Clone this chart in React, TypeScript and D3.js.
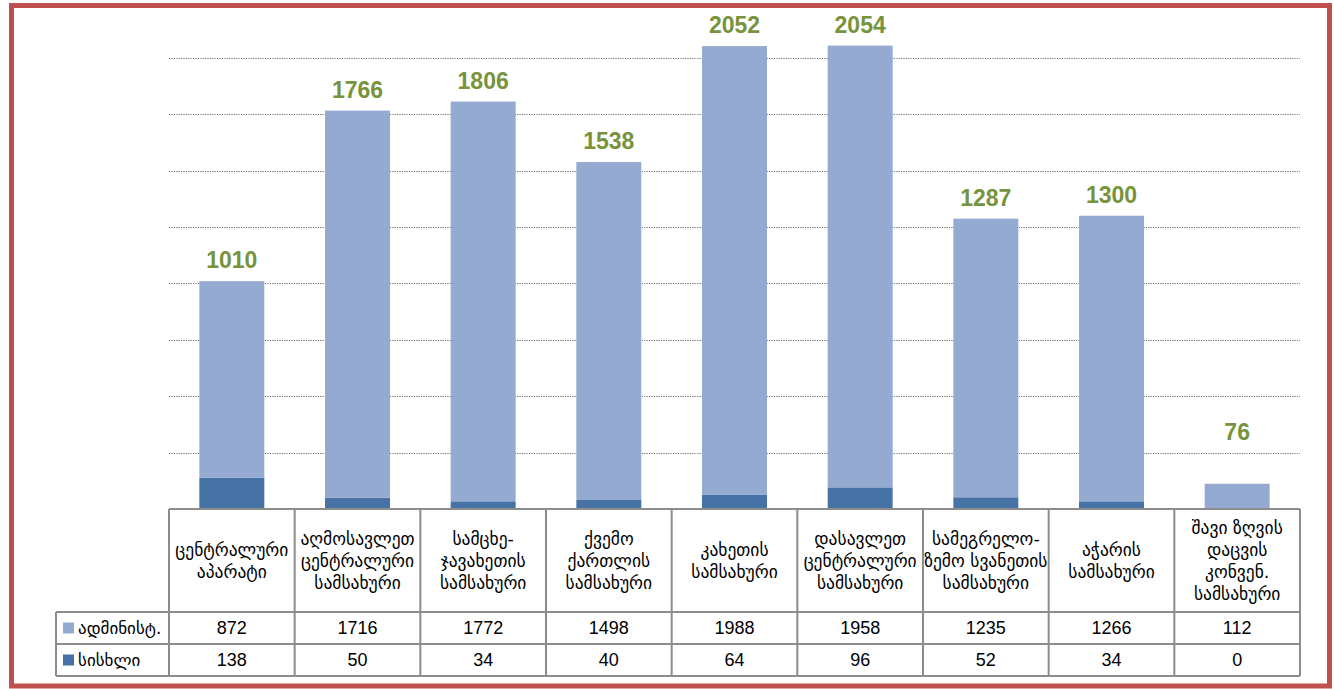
import React from 'react';
import * as d3 from 'd3';

const categories: string[][] = [
  ['ცენტრალური', 'აპარატი'],
  ['აღმოსავლეთ', 'ცენტრალური', 'სამსახური'],
  ['სამცხე-', 'ჯავახეთის', 'სამსახური'],
  ['ქვემო', 'ქართლის', 'სამსახური'],
  ['კახეთის', 'სამსახური'],
  ['დასავლეთ', 'ცენტრალური', 'სამსახური'],
  ['სამეგრელო-', 'ზემო სვანეთის', 'სამსახური'],
  ['აჭარის', 'სამსახური'],
  ['შავი ზღვის', 'დაცვის', 'კონვენ.', 'სამსახური'],
];

const admin = [872, 1716, 1772, 1498, 1988, 1958, 1235, 1266, 112];
const criminal = [138, 50, 34, 40, 64, 96, 52, 34, 0];
// labels shown above the bars (as printed in the source)
const totals = [1010, 1766, 1806, 1538, 2052, 2054, 1287, 1300, 76];

const seriesNames = ['ადმინისტ.', 'სისხლი'];
const gridTicks = [250, 500, 750, 1000, 1250, 1500, 1750, 2000];

const W = 1334;
const H = 689;
const left = 169;
const right = 1300;
const base = 509;
const headerBottom = 612;
const rowH = 32;
const tableLeft = 56;

const lightBlue = '#95AAD1';
const darkBlue = '#4672A6';
const lineGray = '#8C8C8C';

const App: React.FC = () => {
  const keys = categories.map((_, i) => String(i));
  const x = d3.scaleBand<string>().domain(keys).range([left, right]).padding(0);
  const step = x.bandwidth();
  const barW = step * 0.517;
  const y = d3.scaleLinear().domain([0, 2250]).range([base, base - 2250 * 0.2256]);

  const rows = keys.map((k, i) => ({ key: k, crim: criminal[i], adm: admin[i] }));
  const stack = d3.stack<any>().keys(['crim', 'adm'])(rows);
  const colors = [darkBlue, lightBlue];

  const numFont = '"Liberation Sans", Arial, sans-serif';
  const geoFont = '"DejaVu Sans", sans-serif';

  return (
    <svg width={W} height={H} style={{ position: 'absolute', left: 0, top: 0 }}>
      <rect x={0} y={0} width={W} height={H} fill="#fff" />
      <rect x={11.5} y={5.5} width={1318} height={680.5} fill="none" stroke="#C0504D" strokeWidth={5} />

      {/* gridlines */}
      {gridTicks.map((t) => (
        <line key={t} x1={left} x2={right} y1={Math.round(y(t)) + 0.5} y2={Math.round(y(t)) + 0.5}
          stroke="#6E6E6E" strokeWidth={1.2} strokeDasharray="1.2,1.2" />
      ))}

      {/* bars */}
      {stack.map((s, si) => (
        <g key={si} fill={colors[si]}>
          {s.map((d, i) => (
            <rect key={i} x={(x(keys[i]) as number) + (step - barW) / 2} y={y(d[1])}
              width={barW} height={Math.max(0, y(d[0]) - y(d[1]))} />
          ))}
        </g>
      ))}

      {/* total labels */}
      {totals.map((t, i) => {
        const top = admin[i] + criminal[i];
        return (
          <text key={i} x={(x(keys[i]) as number) + step / 2} y={y(Math.max(top, gridTicks[0])) - 13}
            textAnchor="middle" fontFamily={numFont} fontWeight="bold" fontSize={23} fill="#77933C">
            {t}
          </text>
        );
      })}

      {/* data table */}
      <g stroke={lineGray} strokeWidth={2} fill="none">
        <line x1={left} x2={right} y1={base} y2={base} />
        <line x1={tableLeft} x2={right} y1={headerBottom} y2={headerBottom} />
        <line x1={tableLeft} x2={right} y1={headerBottom + rowH} y2={headerBottom + rowH} />
        <line x1={tableLeft} x2={right} y1={headerBottom + 2 * rowH} y2={headerBottom + 2 * rowH} />
        <line x1={tableLeft} x2={tableLeft} y1={headerBottom} y2={headerBottom + 2 * rowH} />
        {keys.map((k) => (
          <line key={k} x1={x(k) as number} x2={x(k) as number} y1={base} y2={headerBottom + 2 * rowH} />
        ))}
        <line x1={right} x2={right} y1={base} y2={headerBottom + 2 * rowH} />
      </g>

      {categories.map((lines, i) => {
        const cx = (x(keys[i]) as number) + step / 2;
        const lh = 22;
        const cy = (base + headerBottom) / 2;
        const y0 = cy - ((lines.length - 1) * lh) / 2;
        return (
          <text key={i} textAnchor="middle" fontFamily={geoFont} fontSize={17.5} fill="#000">
            {lines.map((l, j) => (
              <tspan key={j} x={cx} y={y0 + j * lh} dy="0.35em">{l}</tspan>
            ))}
          </text>
        );
      })}

      {[admin, criminal].map((vals, r) => {
        const cy = headerBottom + rowH * r + rowH / 2;
        return (
          <g key={r}>
            <rect x={63} y={cy - 5.5} width={11} height={11} fill={r === 0 ? lightBlue : darkBlue} />
            <text x={78} y={cy} dy="0.35em" fontFamily={geoFont} fontSize={17} fill="#000">{seriesNames[r]}</text>
            {vals.map((v, i) => (
              <text key={i} x={(x(keys[i]) as number) + step / 2} y={cy} dy="0.35em" textAnchor="middle"
                fontFamily={numFont} fontSize={18} fill="#000">{v}</text>
            ))}
          </g>
        );
      })}
    </svg>
  );
};

export default App;
